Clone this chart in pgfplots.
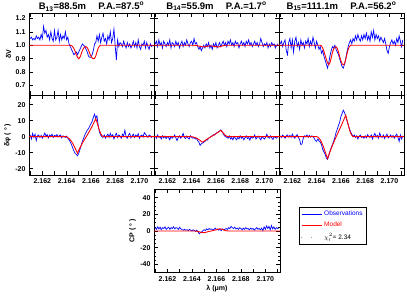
\documentclass[border=0pt]{standalone}
\usepackage{fontspec}
\setmainfont{Liberation Sans}
\usepackage{pgfplots}
\usepackage{pgfplotstable}
\pgfplotsset{compat=1.18}

\pgfplotstableread{
x v13 v14 v15 p13 p14 p15 cp
2.1610 1.05 1.01 1.01 1.0 0.5 0.5 4.0
2.1611 1.06 1.03 1.03 -1.5 -1.0 -0.5 2.0
2.1612 1.04 0.99 0.99 2.0 1.0 1.0 5.0
2.1613 1.05 1.04 1.02 -0.5 -0.5 0.0 2.5
2.1614 1.04 1.00 1.04 1.5 0.0 -1.0 4.5
2.1615 1.07 1.02 0.96 -2.5 -1.5 0.5 1.5
2.1616 1.05 0.98 0.93 0.5 0.5 1.0 4.0
2.1617 1.06 1.03 1.02 1.0 -0.8 -0.3 3.0
2.1618 1.04 1.01 1.05 -0.5 0.3 0.8 5.0
2.1619 1.08 0.99 0.98 0.8 -1.2 -0.5 2.0
2.1620 1.05 1.02 1.04 -1.0 0.0 1.5 3.5
2.1621 1.14 1.00 0.95 0.5 -0.5 0.0 4.5
2.1622 1.09 1.04 1.03 2.2 -2.0 -1.0 2.0
2.1623 1.11 0.98 1.06 0.3 0.2 0.5 4.0
2.1624 1.06 1.02 0.99 1.2 -1.0 1.2 3.0
2.1625 1.08 1.01 1.02 -0.8 -0.3 -0.5 5.0
2.1626 1.04 0.99 0.97 1.0 1.0 -2.0 2.5
2.1627 1.10 1.03 1.04 0.2 -0.8 -5.0 4.0
2.1628 1.05 1.00 1.00 1.5 -2.5 -4.5 3.5
2.1629 1.03 1.02 1.02 -0.5 -0.5 -1.0 2.0
2.1630 1.11 0.98 0.98 0.8 0.5 0.5 4.5
2.1631 1.04 1.01 1.03 0.2 -1.0 0.0 2.5
2.1632 1.06 1.03 1.01 1.3 0.0 1.0 1.5
2.1633 1.11 0.99 1.05 -0.3 2.0 -0.5 1.0
2.1634 1.03 1.02 0.99 0.6 -0.5 0.8 2.0
2.1635 1.08 1.00 1.03 1.0 -1.2 -0.3 1.0
2.1636 1.04 1.04 1.00 -0.8 0.3 0.5 1.5
2.1637 1.07 1.01 1.06 0.5 -0.8 0.0 0.5
2.1638 1.05 0.99 1.02 0.0 -1.5 -1.0 2.0
2.1639 1.10 1.02 0.98 -0.5 0.5 -2.5 1.0
2.1640 1.04 1.03 1.03 0.3 -0.5 -3.0 0.0
2.1641 1.06 1.00 1.00 -1.0 -1.0 -1.5 1.5
2.1642 1.01 1.05 0.97 -2.0 -0.5 -2.8 0.5
2.1643 0.99 1.01 0.99 -3.5 -1.5 -3.5 -0.5
2.1644 0.97 1.02 0.94 -5.0 -1.0 -5.0 1.0
2.1645 0.95 0.99 0.96 -7.0 -2.5 -8.0 -1.0
2.1646 0.93 0.97 0.92 -9.0 -3.5 -9.5 -3.5
2.1647 0.94 0.99 0.89 -10.5 -5.5 -11.0 -2.0
2.1648 0.95 0.96 0.86 -11.2 -4.5 -13.5 -1.0
2.1649 0.93 0.98 0.83 -12.0 -4.0 -14.2 0.5
2.1650 0.95 1.00 0.87 -10.5 -3.5 -12.0 1.5
2.1651 0.97 0.98 0.92 -8.0 -3.0 -9.0 0.5
2.1652 0.99 1.01 0.96 -5.5 -2.0 -7.0 2.5
2.1653 1.01 0.99 0.99 -3.0 -2.2 -5.0 1.5
2.1654 1.00 1.02 0.98 -1.0 -1.0 -3.0 3.0
2.1655 0.99 0.98 1.00 1.0 -0.5 -0.5 2.0
2.1656 0.97 1.00 0.97 2.5 0.2 2.5 2.5
2.1657 0.95 0.97 0.95 4.0 0.5 4.5 1.0
2.1658 0.92 1.01 0.93 5.0 1.2 7.0 2.0
2.1659 0.91 0.99 0.90 6.5 1.0 9.0 3.5
2.1660 0.91 1.02 0.87 8.0 2.0 12.5 1.5
2.1661 0.93 0.98 0.84 9.5 2.5 14.5 2.5
2.1662 0.96 1.00 0.83 12.0 3.0 16.5 1.0
2.1663 1.01 1.02 0.86 14.0 3.5 15.0 2.0
2.1664 1.02 0.99 0.90 11.5 4.2 12.5 0.5
2.1665 1.07 1.01 0.95 13.0 3.0 10.0 2.5
2.1666 1.03 1.03 0.99 7.0 2.0 7.5 1.5
2.1667 1.08 1.00 1.02 3.0 0.5 5.0 2.0
2.1668 1.02 1.02 1.04 1.0 0.0 3.0 3.0
2.1669 1.06 0.99 1.01 0.0 -0.5 1.5 2.0
2.1670 1.09 1.03 1.05 -0.5 -1.0 0.0 4.0
2.1671 1.03 1.01 1.03 1.0 0.5 1.0 3.0
2.1672 1.05 1.04 1.07 -1.0 -1.5 -0.5 5.5
2.1673 1.01 1.00 1.04 0.5 -0.5 0.5 4.0
2.1674 1.07 1.02 1.08 1.5 -2.0 -1.5 3.0
2.1675 1.04 0.99 1.05 -0.5 0.0 0.3 4.5
2.1676 1.10 1.03 1.03 2.0 -1.0 1.0 2.5
2.1677 1.02 1.01 1.07 0.0 -2.0 -0.5 3.5
2.1678 1.05 1.02 1.04 1.2 -0.5 0.0 2.0
2.1679 1.12 0.98 1.08 -1.5 -1.5 -1.0 4.0
2.1680 1.00 1.01 1.05 0.8 0.5 0.5 3.0
2.1681 0.89 1.03 1.09 2.0 -1.0 -0.8 1.5
2.1682 1.04 1.00 1.04 -0.5 -0.3 1.2 3.5
2.1683 0.99 1.02 1.07 1.0 -2.0 0.0 2.0
2.1684 1.02 0.99 1.03 0.3 -0.8 -0.5 4.0
2.1685 1.01 1.03 1.10 -1.0 0.5 1.0 2.5
2.1686 0.99 1.01 1.06 1.5 -1.2 -1.5 3.0
2.1687 1.03 1.04 1.11 0.5 -0.5 0.5 1.5
2.1688 1.00 1.00 1.04 4.0 -2.2 2.0 3.5
2.1689 0.98 1.02 1.08 0.0 0.0 -0.3 2.0
2.1690 1.02 0.99 1.05 -1.0 -1.0 0.8 3.0
2.1691 0.99 1.01 1.07 1.0 -0.5 -1.0 1.0
2.1692 1.01 1.03 1.03 2.0 1.0 2.2 2.5
2.1693 0.98 1.00 1.06 -0.8 -1.5 0.0 4.0
2.1694 1.00 1.02 1.04 0.5 -0.5 -0.5 2.0
2.1695 1.03 0.99 1.02 1.5 0.3 1.0 3.0
2.1696 0.99 1.01 1.05 -0.5 -1.0 -1.2 1.5
2.1697 1.02 1.05 1.01 1.0 -2.0 0.5 3.5
2.1698 0.98 1.02 0.96 0.0 0.0 1.5 0.5
2.1699 1.04 0.99 0.94 1.8 -0.8 -0.8 5.0
2.1700 0.99 1.01 0.99 -1.0 -1.5 0.0 2.0
2.1701 0.97 1.00 1.02 0.5 -0.3 1.0 6.0
2.1702 1.01 1.02 1.04 1.0 1.5 -0.5 3.0
2.1703 1.00 0.98 1.01 -0.3 -0.5 0.8 5.5
2.1704 1.03 1.01 1.03 2.5 -1.0 -1.0 1.5
2.1705 0.98 0.99 1.00 1.5 0.5 0.5 6.5
2.1706 1.02 1.02 1.05 0.5 -0.8 1.5 2.5
2.1707 0.99 1.00 1.02 -0.5 -1.8 -0.5 5.0
2.1708 0.97 1.01 1.07 1.0 0.0 -3.0 2.0
2.1709 1.01 0.98 1.03 0.5 -0.5 1.0 4.0
2.1710 0.99 1.00 0.99 -0.5 -1.0 -1.5 3.0
2.1711 1.00 1.01 1.04 0.3 0.0 0.5 3.5
}\obs

\pgfplotstableread{
x m13 m14 m15 q13 q14 q15 mcp
2.1609 1.000 1.000 1.000 0.0 0.0 0.0 0.0
2.1638 1.000 1.000 1.000 0.0 0.0 0.0 0.0
2.1639 1.000 1.000 1.000 0.0 0.0 0.0 0.0
2.1640 1.000 1.000 1.000 -0.2 -0.1 0.0 0.0
2.1641 1.000 1.000 1.000 -0.6 -0.2 -0.3 0.0
2.1642 1.000 1.000 1.000 -1.2 -0.4 -1.0 0.0
2.1643 1.000 0.999 1.000 -2.0 -0.7 -2.0 -0.1
2.1644 0.998 0.998 0.995 -3.0 -1.0 -3.5 -0.3
2.1645 0.990 0.996 0.980 -4.2 -1.4 -5.2 -0.6
2.1646 0.975 0.994 0.955 -5.6 -1.9 -7.2 -1.0
2.1647 0.955 0.992 0.925 -7.2 -2.4 -9.4 -1.4
2.1648 0.930 0.990 0.895 -8.9 -3.0 -11.7 -1.8
2.1649 0.910 0.989 0.870 -10.4 -3.5 -13.7 -2.0
2.1650 0.900 0.988 0.855 -8.5 -3.0 -11.5 -2.0
2.1651 0.910 0.989 0.870 -7.0 -2.5 -9.5 -1.7
2.1652 0.935 0.991 0.905 -5.5 -2.0 -7.5 -1.3
2.1653 0.960 0.993 0.945 -4.0 -1.5 -5.6 -0.9
2.1654 0.978 0.994 0.972 -2.8 -1.0 -3.8 -0.5
2.1655 0.988 0.995 0.985 -1.5 -0.5 -2.0 -0.2
2.1656 0.990 0.995 0.988 -0.3 -0.1 -0.3 0.1
2.1657 0.983 0.994 0.978 1.0 0.4 1.4 0.4
2.1658 0.965 0.993 0.950 2.3 0.8 3.0 0.8
2.1659 0.940 0.991 0.915 3.6 1.3 4.7 1.2
2.1660 0.920 0.990 0.885 5.0 1.8 6.4 1.6
2.1661 0.905 0.989 0.862 6.4 2.3 8.1 2.0
2.1662 0.900 0.988 0.855 8.0 2.8 9.9 2.4
2.1663 0.902 0.989 0.862 9.6 3.3 11.6 2.6
2.1664 0.920 0.991 0.895 11.2 3.9 13.3 2.4
2.1665 0.950 0.994 0.935 9.0 3.2 10.5 1.8
2.1666 0.978 0.997 0.970 6.5 2.3 7.5 1.2
2.1667 0.994 0.999 0.990 4.0 1.4 4.5 0.7
2.1668 1.000 1.000 1.000 2.0 0.7 2.2 0.3
2.1669 1.000 1.000 1.000 0.7 0.2 0.8 0.1
2.1670 1.000 1.000 1.000 0.0 0.0 0.0 0.0
2.1671 1.000 1.000 1.000 0.0 0.0 0.0 0.0
2.1712 1.000 1.000 1.000 0.0 0.0 0.0 0.0
}\model

\pgfplotsset{
  panel/.style={
    scale only axis, width=125pt,
    xmin=2.1609, xmax=2.1712,
    xtick={2.161,2.162,2.163,2.164,2.165,2.166,2.167,2.168,2.169,2.170,2.171},
    xticklabels={,2.162,,2.164,,2.166,,2.168,,2.170,},
    tick align=inside, major tick length=4pt, minor tick length=2.5pt,
    axis line style={line width=0.8pt},
    every tick/.style={black, line width=0.6pt},
    tick label style={font=\fontsize{7}{8}\selectfont\bfseries},
    label style={font=\fontsize{7}{8}\selectfont\bfseries},
    /pgf/number format/assume math mode=true,
    ylabel style={inner sep=1pt},
    title style={font=\fontsize{9.5}{11}\selectfont\bfseries,
      at={(0.5,1)}, anchor=base, yshift=-2.5pt, inner sep=0pt},
  },
  obs/.style={blue, line width=0.7pt},
  mod/.style={red, line width=0.9pt},
  vrow/.style={panel, height=82pt, ymin=0.63, ymax=1.24,
    ytick={0.7,0.8,0.9,1.0,1.1,1.2},
    yticklabel style={/pgf/number format/.cd, fixed, fixed zerofill, precision=1},
    xticklabels={}},
  prow/.style={panel, height=80pt, ymin=-24, ymax=26,
    ytick={-20,-10,0,10,20}},
}

\begin{document}
\begin{tikzpicture}
\useasboundingbox (0,0) rectangle (407pt,295pt);

% Row 1: delta V
\begin{axis}[vrow, at={(29pt,200pt)}, anchor=south west, ylabel={δV},
  title={B\textsubscript{13}=88.5m\hspace{1.3em}P.A.=87.5\textsuperscript{o}}]
\addplot[obs] table[x=x,y=v13]{\obs};
\addplot[mod] table[x=x,y=m13]{\model};
\end{axis}
\begin{axis}[vrow, at={(154pt,200pt)}, anchor=south west, yticklabels={},
  title={B\textsubscript{14}=55.9m\hspace{1.3em}P.A.=1.7\textsuperscript{o}}]
\addplot[obs] table[x=x,y=v14]{\obs};
\addplot[mod] table[x=x,y=m14]{\model};
\end{axis}
\begin{axis}[vrow, at={(279pt,200pt)}, anchor=south west, yticklabels={},
  title={B\textsubscript{15}=111.1m\hspace{1.3em}P.A.=56.2\textsuperscript{o}}]
\addplot[obs] table[x=x,y=v15]{\obs};
\addplot[mod] table[x=x,y=m15]{\model};
\end{axis}

% Row 2: delta phi
\begin{axis}[prow, at={(29pt,120pt)}, anchor=south west, ylabel={δφ ( ° )}]
\addplot[obs] table[x=x,y=p13]{\obs};
\addplot[mod] table[x=x,y=q13]{\model};
\end{axis}
\begin{axis}[prow, at={(154pt,120pt)}, anchor=south west, yticklabels={}]
\addplot[obs] table[x=x,y=p14]{\obs};
\addplot[mod] table[x=x,y=q14]{\model};
\end{axis}
\begin{axis}[prow, at={(279pt,120pt)}, anchor=south west, yticklabels={}]
\addplot[obs] table[x=x,y=p15]{\obs};
\addplot[mod] table[x=x,y=q15]{\model};
\end{axis}

% Row 3: closure phase
\begin{axis}[panel, at={(154pt,22.3pt)}, anchor=south west, width=126pt, height=83.4pt,
  ymin=-50, ymax=50, ytick={-40,-20,0,20,40}, minor y tick num=3,
  ylabel={CP ( ° )}, xlabel={λ (μm)},
  xlabel style={inner sep=1pt},
  legend image code/.code={\draw[#1] (0pt,0pt) -- (20pt,0pt);},
  legend cell align=left,
  legend style={at={(1.151,0.788)}, anchor=north west, draw=black, line width=0.6pt,
    font=\fontsize{6.5}{7.5}\selectfont, inner xsep=2pt, inner ysep=1.5pt,
    row sep=1.2pt}]
\addplot[obs] table[x=x,y=cp]{\obs};
\addlegendentry{\textcolor{blue}{Observations}\hspace{8pt}}
\addplot[mod] table[x=x,y=mcp]{\model};
\addlegendentry{\textcolor{red}{Model}}
\addlegendimage{black, line width=0.9pt, line cap=round, dash pattern=on 0pt off 10pt}
\addlegendentry{$\chi_{\mathrm{r}}^{2}$= 2.34}
\end{axis}
\end{tikzpicture}
\end{document}
